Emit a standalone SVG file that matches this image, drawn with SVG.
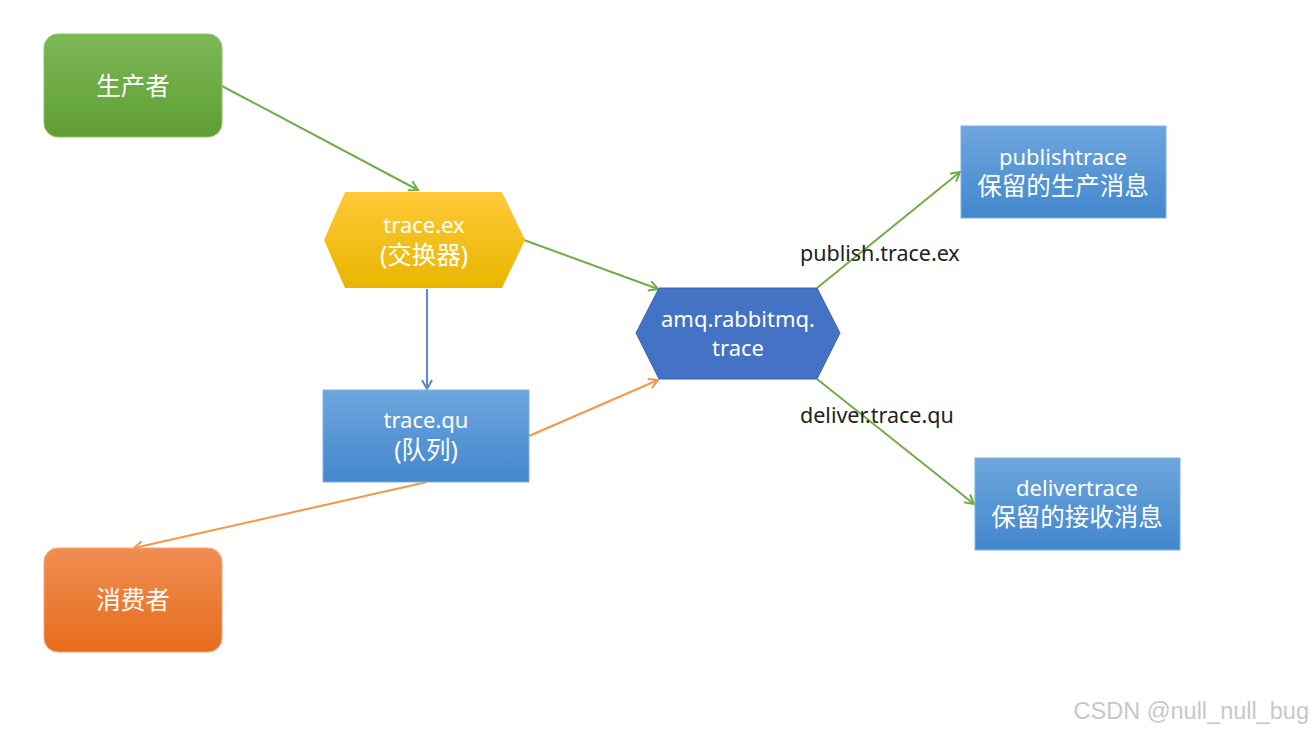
<svg xmlns="http://www.w3.org/2000/svg" width="1314" height="732" viewBox="0 0 1314 732">
<style>
.t{font-family:"Noto Sans","Noto Sans CJK SC",sans-serif;font-size:22px;fill:#fff;text-anchor:middle}
.z{font-size:24.5px}
.lb{font-family:"Noto Sans","Noto Sans CJK SC",sans-serif;font-size:21.5px;fill:#222}
.c{fill:none;stroke-width:2}
.g{stroke:#70ad47}
.o{stroke:#f79646}
.b{stroke:#5b86d6}
</style>
<defs>
<linearGradient id="gGreen" x1="0" y1="0" x2="0" y2="1"><stop offset="0" stop-color="#7cb857"/><stop offset="1" stop-color="#5f9e33"/></linearGradient>
<linearGradient id="gOrange" x1="0" y1="0" x2="0" y2="1"><stop offset="0" stop-color="#f08d52"/><stop offset="1" stop-color="#e66d1c"/></linearGradient>
<linearGradient id="gYellow" x1="0" y1="0" x2="0" y2="1"><stop offset="0" stop-color="#ffc937"/><stop offset="1" stop-color="#e8b600"/></linearGradient>
<linearGradient id="gBlue" x1="0" y1="0" x2="0" y2="1"><stop offset="0" stop-color="#6ea6de"/><stop offset="1" stop-color="#4287cc"/></linearGradient>
<marker id="ag" markerWidth="12" markerHeight="12" refX="10" refY="6" orient="auto" markerUnits="userSpaceOnUse"><path d="M1,1 L10,6 L1,11" fill="none" stroke="#70ad47" stroke-width="2"/></marker>
<marker id="ao" markerWidth="12" markerHeight="12" refX="10" refY="6" orient="auto" markerUnits="userSpaceOnUse"><path d="M1,1 L10,6 L1,11" fill="none" stroke="#f79646" stroke-width="2"/></marker>
<marker id="ab" markerWidth="12" markerHeight="12" refX="10" refY="6" orient="auto" markerUnits="userSpaceOnUse"><path d="M1,1 L10,6 L1,11" fill="none" stroke="#5b86d6" stroke-width="2"/></marker>
</defs>
<rect width="1314" height="732" fill="#fff"/>
<g id="connectors">
<line class="c g" x1="222" y1="86" x2="418" y2="190" marker-end="url(#ag)"/>
<line class="c g" x1="524" y1="240" x2="658" y2="289" marker-end="url(#ag)"/>
<line class="c b" x1="427" y1="289" x2="427" y2="389" marker-end="url(#ab)"/>
<line class="c o" x1="529" y1="436" x2="658" y2="380" marker-end="url(#ao)"/>
<line class="c o" x1="427" y1="482" x2="134" y2="548" marker-end="url(#ao)"/>
<line class="c g" x1="817" y1="288" x2="960" y2="172" marker-end="url(#ag)"/>
<line class="c g" x1="817" y1="379" x2="974" y2="504" marker-end="url(#ag)"/>
<text class="lb" x="800" y="261">publish.trace.ex</text>
<text class="lb" x="800" y="423">deliver.trace.qu</text>
</g>
<g id="producer">
<rect x="44" y="34" width="178" height="103" rx="14" fill="url(#gGreen)" stroke="#8cc46a" stroke-width="1"/>
<text class="t z" x="133" y="95">生产者</text>
</g>
<g id="trace-ex">
<polygon points="345,192 502,192 525,240 502,288 345,288 324,240" fill="url(#gYellow)"/>
<text class="t" x="424" y="233">trace.ex</text>
<text class="t z" x="424" y="264">(交换器)</text>
</g>
<g id="amq-trace">
<polygon points="659,288 817,288 840,333 817,379 659,379 636,333" fill="#4472c4" stroke="#3a64b0" stroke-width="1"/>
<text class="t" x="738" y="327">amq.rabbitmq.</text>
<text class="t" x="738" y="356">trace</text>
</g>
<g id="trace-qu">
<rect x="323" y="390" width="206" height="92" fill="url(#gBlue)" stroke="#7fb1e3" stroke-width="1"/>
<text class="t" x="426" y="428">trace.qu</text>
<text class="t z" x="426" y="459">(队列)</text>
</g>
<g id="consumer">
<rect x="44" y="548" width="178" height="104" rx="14" fill="url(#gOrange)" stroke="#f4a57a" stroke-width="1"/>
<text class="t z" x="133" y="609">消费者</text>
</g>
<g id="publishtrace">
<rect x="961" y="126" width="205" height="92" fill="url(#gBlue)" stroke="#7fb1e3" stroke-width="1"/>
<text class="t" x="1063" y="165">publishtrace</text>
<text class="t z" x="1063" y="195">保留的生产消息</text>
</g>
<g id="delivertrace">
<rect x="975" y="458" width="205" height="92" fill="url(#gBlue)" stroke="#7fb1e3" stroke-width="1"/>
<text class="t" x="1077" y="496">delivertrace</text>
<text class="t z" x="1077" y="526">保留的接收消息</text>
</g>
<text x="1309" y="719" font-family="Liberation Sans, sans-serif" font-size="23.5" fill="#c8c8c8" text-anchor="end">CSDN @null_null_bug</text>
</svg>
